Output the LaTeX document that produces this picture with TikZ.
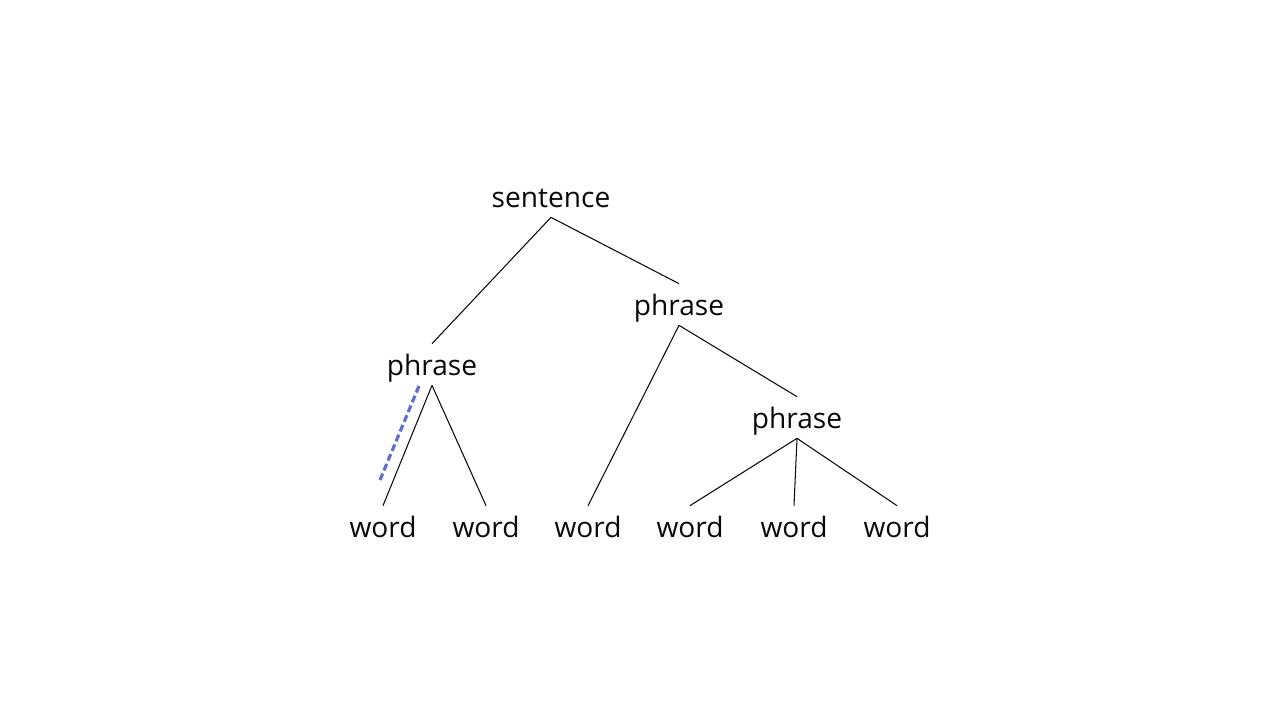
\documentclass[tikz,border=0pt]{standalone}
\usepackage{fontspec}
\setmainfont{Open Sans}
\usepackage{tikz}
\usetikzlibrary{arrows.meta,positioning}
\definecolor{TreeBlack}{RGB}{10,10,10}
\definecolor{HiBlue}{RGB}{95,110,205}

\begin{document}
\begin{tikzpicture}[x=0.02cm,y=-0.02cm,
        lbl/.style={anchor=base,inner xsep=0pt,inner ysep=0.2cm,
                    text height=0.42cm,text depth=0pt,
                    font=\fontsize{16}{18}\selectfont,text=TreeBlack},
        edge/.style={line width=0.6pt,color=TreeBlack},
        hilite/.style={line width=1.8pt,color=HiBlue,dash pattern=on 4pt off 2pt}
      ]
        \useasboundingbox (0,0) rectangle (1280,720);
        \node[lbl] (S) at (551,207) {sentence};
        \node[lbl] (P1) at (432,375) {phrase};
        \node[lbl] (P2) at (679,315) {phrase};
        \node[lbl] (P3) at (797,428) {phrase};
        \node[lbl] (W1) at (383,537) {word};
        \node[lbl] (W2) at (486,537) {word};
        \node[lbl] (W3) at (588,537) {word};
        \node[lbl] (W4) at (690,537) {word};
        \node[lbl] (W5) at (794,537) {word};
        \node[lbl] (W6) at (897,537) {word};
        \draw[edge] (S.south)--(P1.north);
        \draw[edge] (S.south)--(P2.north);
        \draw[edge] (P1.south)--(W1.north);
        \draw[edge] (P1.south)--(W2.north);
        \draw[edge] (P2.south)--(W3.north);
        \draw[edge] (P2.south)--(P3.north);
        \draw[edge] (P3.south)--(W4.north);
        \draw[edge] (P3.south)--(W5.north);
        \draw[edge] (P3.south)--(W6.north);
        \draw[hilite] (419,386)--(380,480);
      \end{tikzpicture}
\end{document}
